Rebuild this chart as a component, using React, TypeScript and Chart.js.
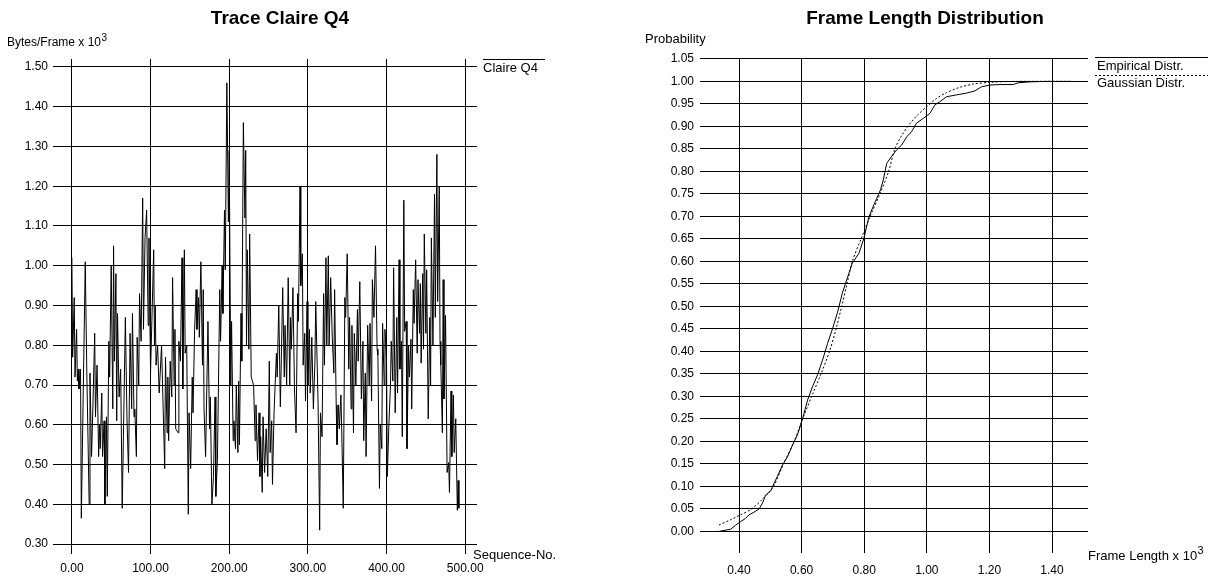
import React, { useEffect, useRef } from "react";
import { Chart, registerables } from "chart.js";

Chart.register(...registerables);

const FONT = '"Liberation Sans", Arial, sans-serif';

// ---- Left chart: Trace Claire Q4 ----
const traceSeq = [
  0, 1, 3, 4, 6, 7, 8, 9, 11, 12,
  17, 19, 22, 23, 25, 26, 29, 30, 32, 34,
  35, 36, 38, 39, 41, 42, 44, 45, 47, 48,
  50, 52, 53, 54, 56, 57, 58, 60, 62, 64,
  68, 70, 72, 74, 76, 77, 79, 80, 82, 83,
  85, 86, 88, 90, 91, 93, 95, 97, 98, 100,
  104, 105, 106, 107, 109, 111, 114, 118, 119, 121,
  122, 123, 125, 127, 128, 130, 131, 132, 135, 136,
  138, 140, 141, 143, 144, 146, 148, 149, 151, 153,
  154, 156, 158, 159, 161, 162, 164, 166, 167, 168,
  170, 173, 175, 176, 178, 180, 182, 183, 185, 188,
  189, 191, 192, 194, 195, 197, 199, 200, 202, 203,
  205, 206, 208, 209, 211, 212, 213, 215, 216, 218,
  220, 221, 222, 223, 225, 226, 228, 231, 233, 234,
  236, 238, 239, 240, 242, 243, 245, 247, 249, 251,
  252, 254, 255, 257, 260, 261, 263, 265, 266, 268,
  270, 271, 273, 275, 277, 278, 279, 281, 283, 285,
  287, 288, 290, 291, 293, 294, 296, 297, 299, 300,
  302, 303, 305, 307, 309, 310, 313, 315, 316, 318,
  320, 321, 323, 324, 326, 327, 329, 331, 333, 334,
  336, 337, 339, 340, 342, 343, 345, 347, 348, 350,
  352, 353, 355, 356, 358, 359, 361, 363, 364, 366,
  368, 370, 371, 373, 374, 376, 378, 379, 381, 382,
  384, 386, 388, 389, 391, 392, 394, 395, 397, 398,
  400, 401, 403, 405, 406, 408, 409, 411, 413, 414,
  416, 417, 419, 420, 422, 423, 425, 426, 428, 429,
  431, 432, 434, 435, 437, 439, 440, 442, 443, 444,
  446, 447, 448, 450, 451, 453, 455, 456, 457, 459,
  461, 462, 464, 465, 467, 468, 469, 471, 472, 473,
  475, 477, 479, 480, 482, 483, 485, 486, 488, 490,
  491, 492,
];
const traceBytes = [
  1.02, 0.77, 0.92, 0.72, 0.84, 0.71, 0.74, 0.69, 0.74, 0.365,
  1.01, 0.73, 0.40, 0.73, 0.52, 0.59, 0.83, 0.62, 0.75, 0.52,
  0.60, 0.54, 0.68, 0.52, 0.61, 0.40, 0.62, 0.42, 0.81, 0.72,
  1.00, 0.64, 1.05, 0.76, 0.98, 0.61, 0.88, 0.67, 0.74, 0.39,
  0.87, 0.62, 0.48, 0.83, 0.64, 0.88, 0.62, 0.64, 0.52, 0.82,
  0.70, 0.93, 0.81, 1.17, 0.84, 1.07, 1.14, 0.85, 1.07, 0.73,
  1.04, 0.80, 0.90, 0.75, 0.80, 0.68, 0.80, 0.49, 0.77, 0.58,
  0.72, 0.56, 0.76, 0.67, 0.97, 0.70, 0.84, 0.59, 0.58, 0.81,
  0.76, 1.02, 0.69, 1.04, 0.78, 0.80, 0.375, 0.63, 0.49, 0.72,
  0.63, 0.84, 0.94, 0.84, 0.92, 0.82, 1.01, 0.75, 0.94, 0.64,
  0.52, 0.86, 0.59, 0.67, 0.40, 0.47, 0.67, 0.42, 0.51, 0.94,
  0.81, 1.00, 0.88, 1.14, 0.99, 1.46, 1.11, 1.29, 0.70, 0.86,
  0.56, 0.61, 0.54, 0.70, 0.53, 0.71, 0.55, 0.88, 0.76, 1.36,
  1.12, 1.29, 0.80, 1.04, 0.79, 1.08, 0.72, 0.70, 0.56, 0.65,
  0.51, 0.63, 0.47, 0.57, 0.43, 0.62, 0.48, 0.59, 0.47, 0.76,
  0.53, 0.61, 0.45, 0.63, 0.78, 0.72, 0.90, 0.645, 0.74, 0.945,
  0.72, 0.85, 0.70, 0.97, 0.70, 0.87, 0.79, 0.945, 0.69, 0.58,
  0.93, 0.86, 1.20, 0.95, 1.03, 0.75, 0.83, 0.66, 0.91, 0.70,
  0.84, 0.68, 0.82, 0.64, 0.76, 0.91, 0.65, 0.335, 0.63, 0.57,
  0.93, 0.75, 1.02, 0.80, 1.025, 0.80, 0.97, 0.82, 0.73, 0.94,
  0.65, 0.55, 0.65, 0.59, 0.675, 0.59, 0.39, 0.92, 0.87, 1.03,
  0.74, 0.87, 0.64, 0.85, 0.58, 0.83, 0.70, 0.89, 0.76, 0.96,
  0.665, 0.81, 0.56, 0.73, 0.52, 0.85, 0.70, 0.855, 0.66, 0.965,
  0.87, 1.05, 0.79, 0.775, 0.44, 0.60, 0.54, 0.855, 0.70, 0.84,
  0.76, 0.47, 0.60, 0.70, 0.81, 0.71, 0.995, 0.63, 0.87, 0.68,
  1.015, 0.74, 0.81, 0.57, 1.165, 0.835, 0.86, 0.54, 0.80, 0.72,
  0.815, 0.64, 0.94, 0.855, 1.015, 0.78, 0.965, 0.83, 0.955, 0.755,
  0.98, 0.79, 1.08, 0.83, 0.99, 0.615, 0.87, 0.70, 1.07, 0.80,
  1.18, 0.87, 1.28, 0.91, 1.20, 0.81, 0.75, 0.58, 0.965, 0.665,
  0.875, 0.48, 0.505, 0.43, 0.685, 0.52, 0.675, 0.53, 0.615, 0.385,
  0.46, 0.39,
];
const traceXTicks = [0, 100, 200, 300, 400, 500];
const traceYTicks = [0.3, 0.4, 0.5, 0.6, 0.7, 0.8, 0.9, 1.0, 1.1, 1.2, 1.3, 1.4, 1.5];

// ---- Right chart: Frame Length Distribution ----
const empiricalX = [
  0.335, 0.373, 0.389, 0.405, 0.421, 0.432, 0.448, 0.464, 0.475, 0.485,
  0.501, 0.512, 0.523, 0.539, 0.555, 0.571, 0.587, 0.603, 0.619, 0.635,
  0.651, 0.667, 0.683, 0.699, 0.714, 0.730, 0.746, 0.762, 0.783, 0.799,
  0.815, 0.831, 0.852, 0.861, 0.872, 0.888, 0.904, 0.920, 0.936, 0.951,
  0.967, 0.989, 1.010, 1.026, 1.042, 1.063, 1.095, 1.127, 1.154, 1.175,
  1.202, 1.234, 1.276, 1.292, 1.330, 1.383, 1.463,
];
const empiricalP = [
  0.0, 0.005, 0.014, 0.022, 0.029, 0.037, 0.043, 0.05, 0.063, 0.081,
  0.09, 0.107, 0.123, 0.148, 0.166, 0.192, 0.215, 0.25, 0.292, 0.322,
  0.348, 0.381, 0.418, 0.451, 0.485, 0.529, 0.563, 0.596, 0.618, 0.651,
  0.699, 0.726, 0.759, 0.781, 0.818, 0.834, 0.848, 0.859, 0.877, 0.888,
  0.907, 0.918, 0.929, 0.948, 0.955, 0.966, 0.970, 0.974, 0.979, 0.988,
  0.992, 0.993, 0.993, 0.997, 0.999, 1.0, 1.0,
];
const gaussianX = [
  0.336, 0.373, 0.405, 0.440, 0.475, 0.510, 0.542, 0.576, 0.606, 0.635,
  0.662, 0.689, 0.710, 0.728, 0.745, 0.762, 0.790, 0.819, 0.850, 0.878,
  0.898, 0.920, 0.945, 0.970, 1.000, 1.031, 1.063, 1.106, 1.148, 1.202,
  1.276, 1.46,
];
const gaussianP = [
  0.0145, 0.026, 0.037, 0.050, 0.072, 0.100, 0.150, 0.200, 0.255, 0.305,
  0.350, 0.400, 0.450, 0.500, 0.550, 0.600, 0.650, 0.700, 0.750, 0.800,
  0.850, 0.880, 0.905, 0.925, 0.944, 0.962, 0.975, 0.987, 0.994, 0.998,
  1.0, 1.0,
];
const distXTicks = [0.4, 0.6, 0.8, 1.0, 1.2, 1.4];
const distYTicks = [
  0, 0.05, 0.1, 0.15, 0.2, 0.25, 0.3, 0.35, 0.4, 0.45, 0.5,
  0.55, 0.6, 0.65, 0.7, 0.75, 0.8, 0.85, 0.9, 0.95, 1.0, 1.05,
];

type Txt = { t: string; x: number; y: number; size: number; bold?: boolean; align?: CanvasTextAlign; sup?: string };
type Ln = { x1: number; x2: number; y: number; dash?: number[] };

function overlay(texts: Txt[], lines: Ln[]) {
  return {
    id: "overlay",
    afterDraw(chart: any) {
      const ctx = chart.ctx as CanvasRenderingContext2D;
      ctx.save();
      ctx.fillStyle = "#000";
      ctx.strokeStyle = "#000";
      ctx.lineWidth = 1;
      ctx.textBaseline = "middle";
      for (const it of texts) {
        ctx.font = `${it.bold ? "bold " : ""}${it.size}px ${FONT}`;
        ctx.textAlign = it.align ?? "left";
        ctx.fillText(it.t, it.x, it.y);
        if (it.sup) {
          const w = ctx.measureText(it.t).width;
          const x0 = it.align === "center" ? it.x + w / 2 : it.x + w;
          ctx.font = `${Math.round(it.size * 0.85)}px ${FONT}`;
          ctx.textAlign = "left";
          ctx.fillText(it.sup, x0 + 0.5, it.y - 5);
        }
      }
      for (const l of lines) {
        ctx.setLineDash(l.dash ?? []);
        ctx.beginPath();
        ctx.moveTo(l.x1, l.y + 0.5);
        ctx.lineTo(l.x2, l.y + 0.5);
        ctx.stroke();
      }
      ctx.restore();
    },
  };
}

function axis(min: number, max: number, ticks: number[], fit: { height?: number; width?: number }, pad: number) {
  return {
    type: "linear" as const,
    min,
    max,
    afterBuildTicks: (s: any) => {
      s.ticks = ticks.map((v) => ({ value: v }));
    },
    afterFit: (s: any) => {
      if (fit.height !== undefined) s.height = fit.height;
      if (fit.width !== undefined) s.width = fit.width;
    },
    grid: { color: "#000", lineWidth: 1, drawTicks: false },
    border: { display: false },
    ticks: {
      autoSkip: false,
      maxRotation: 0,
      padding: pad,
      color: "#000",
      font: { family: FONT, size: 12 },
      callback: (v: any) => Number(v).toFixed(2),
    },
  };
}

export default function App() {
  const leftRef = useRef<HTMLCanvasElement>(null);
  const rightRef = useRef<HTMLCanvasElement>(null);

  useEffect(() => {
    const left = new Chart(leftRef.current as HTMLCanvasElement, {
      type: "line",
      data: {
        datasets: [
          {
            label: "Claire Q4",
            data: traceSeq.map((x, i) => ({ x, y: traceBytes[i] })),
            borderColor: "#000",
            borderWidth: 1,
            pointRadius: 0,
            tension: 0,
            fill: false,
          },
        ],
      },
      options: {
        responsive: false,
        animation: false,
        devicePixelRatio: 1,
        events: [],
        layout: { padding: { left: 0, right: 123, top: 59, bottom: 0 } },
        plugins: { legend: { display: false }, tooltip: { enabled: false } },
        scales: {
          x: axis(-24, 515, traceXTicks, { height: 22 }, 7),
          y: axis(0.275, 1.52, traceYTicks, { width: 53 }, 5),
        },
      } as any,
      plugins: [
        overlay(
          [
            { t: "Trace Claire Q4", x: 280, y: 19, size: 19, bold: true, align: "center" },
            { t: "Bytes/Frame x 10", x: 7, y: 43, size: 12, sup: "3" },
            { t: "Claire Q4", x: 483, y: 68, size: 13 },
            { t: "Sequence-No.", x: 473, y: 555, size: 13 },
          ],
          [{ x1: 483, x2: 545, y: 59 }]
        ),
      ],
    });

    const right = new Chart(rightRef.current as HTMLCanvasElement, {
      type: "line",
      data: {
        datasets: [
          {
            label: "Empirical Distr.",
            data: empiricalX.map((x, i) => ({ x, y: empiricalP[i] })),
            borderColor: "#000",
            borderWidth: 1,
            pointRadius: 0,
            tension: 0,
            fill: false,
          },
          {
            label: "Gaussian Distr.",
            data: gaussianX.map((x, i) => ({ x, y: gaussianP[i] })),
            borderColor: "#000",
            borderWidth: 1,
            borderDash: [2, 2],
            pointRadius: 0,
            tension: 0.3,
            fill: false,
          },
        ],
      },
      options: {
        responsive: false,
        animation: false,
        devicePixelRatio: 1,
        events: [],
        layout: { padding: { left: 0, right: 127, top: 58, bottom: 0 } },
        plugins: { legend: { display: false }, tooltip: { enabled: false } },
        scales: {
          x: axis(0.2754, 1.515, distXTicks, { height: 23 }, 10),
          y: axis(-0.0478, 1.052, distYTicks, { width: 100 }, 6),
        },
      } as any,
      plugins: [
        overlay(
          [
            { t: "Frame Length Distribution", x: 325, y: 19, size: 19, bold: true, align: "center" },
            { t: "Probability", x: 45, y: 39, size: 13 },
            { t: "Empirical Distr.", x: 497, y: 66, size: 13 },
            { t: "Gaussian Distr.", x: 497, y: 83, size: 13 },
            { t: "Frame Length x 10", x: 488, y: 556, size: 13, sup: "3" },
          ],
          [
            { x1: 495, x2: 608, y: 57 },
            { x1: 495, x2: 608, y: 75, dash: [2, 2] },
          ]
        ),
      ],
    });

    return () => {
      left.destroy();
      right.destroy();
    };
  }, []);

  return (
    <div style={{ position: "absolute", left: 0, top: 0, width: 1215, height: 576, background: "#fff" }}>
      <canvas
        ref={leftRef}
        width={600}
        height={576}
        style={{ position: "absolute", left: 0, top: 0, width: 600, height: 576 }}
      />
      <canvas
        ref={rightRef}
        width={615}
        height={576}
        style={{ position: "absolute", left: 600, top: 0, width: 615, height: 576 }}
      />
    </div>
  );
}
